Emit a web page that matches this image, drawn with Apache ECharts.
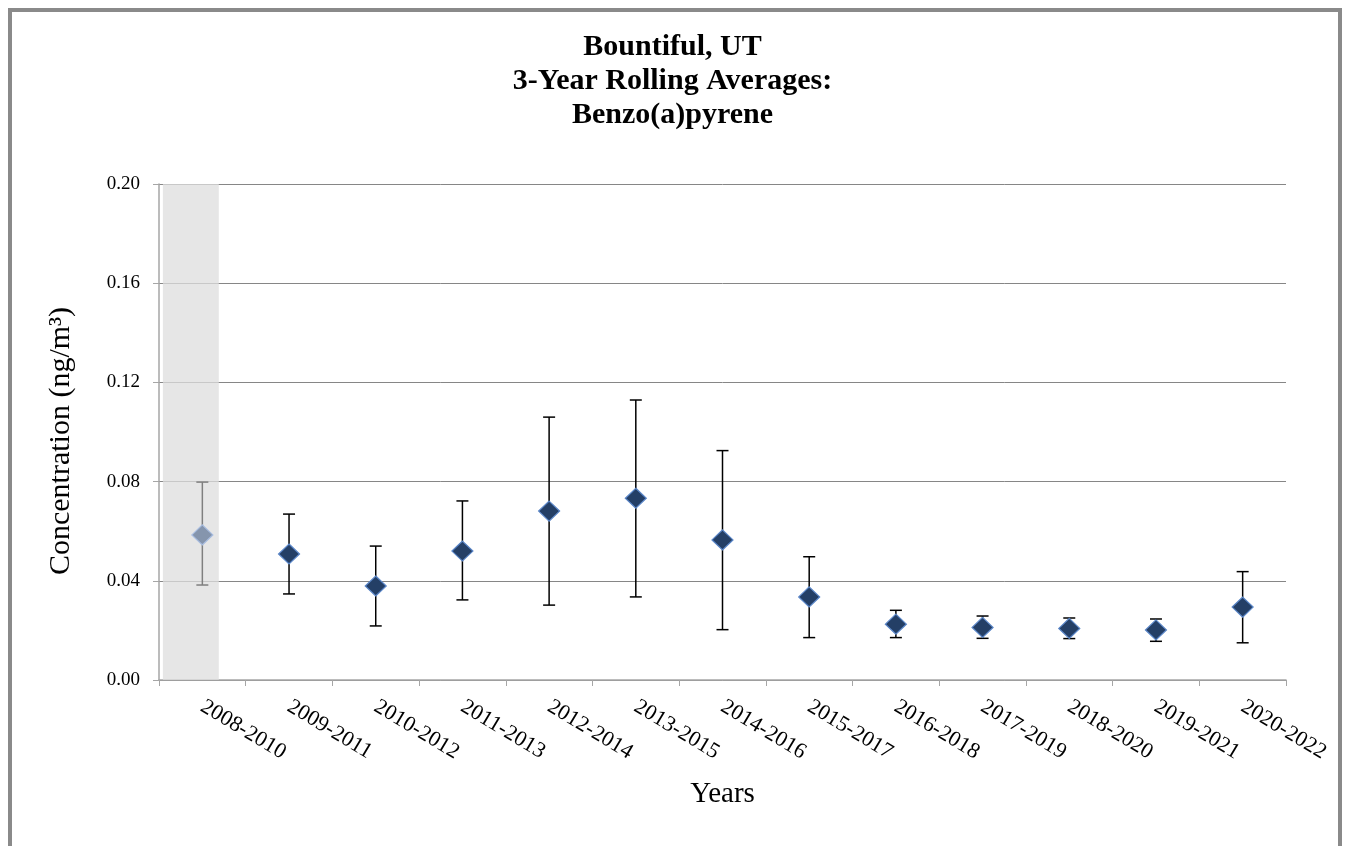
<!DOCTYPE html>
<html>
<head>
<meta charset="utf-8">
<script src="https://cdn.jsdelivr.net/npm/echarts@6/dist/echarts.min.js"></script>
<style>
html,body{margin:0;padding:0;background:#fff;}
#chart{width:1345px;height:846px;}
</style>
</head>
<body>
<div id="chart"></div>
<script>
// ---- data ----
var categories = ['2008-2010','2009-2011','2010-2012','2011-2013','2012-2014','2013-2015','2014-2016','2015-2017','2016-2018','2017-2019','2018-2020','2019-2021','2020-2022'];
var means = [0.0585, 0.0508, 0.0379, 0.0520, 0.0681, 0.0733, 0.0565, 0.0335, 0.0225, 0.0212, 0.0208, 0.0202, 0.0294];
var lows  = [0.0383, 0.0347, 0.0218, 0.0323, 0.0302, 0.0335, 0.0203, 0.0171, 0.0171, 0.0168, 0.0167, 0.0156, 0.0150];
var highs = [0.0798, 0.0669, 0.0540, 0.0722, 0.1060, 0.1129, 0.0925, 0.0497, 0.0281, 0.0258, 0.0250, 0.0246, 0.0437];
var yTicks = [0, 0.04, 0.08, 0.12, 0.16, 0.20];
var shadedBand = [-0.455, 0.19]; // shaded period (category units)

var SERIF = "'Liberation Serif','Times New Roman',serif";
var chart = echarts.init(document.getElementById('chart'), null, {renderer:'canvas'});

var scatterData = means.map(function(v, i){
  var d = {value:[i, v]};
  if (i === 0) d.itemStyle = {color:'#8595ad', borderColor:'#a8bde0', borderWidth:1.2};
  return d;
});
var errData = means.map(function(v, i){ return [i, lows[i], highs[i]]; });

var option = {
  animation:false,
  backgroundColor:'#fff',
  graphic:[{
    type:'rect', z:100, silent:true,
    shape:{x:10, y:10, width:1330, height:860},
    style:{fill:null, stroke:'#8a8a8a', lineWidth:4}
  }],
  title:{
    text:'Bountiful, UT\n3-Year Rolling Averages:\nBenzo(a)pyrene',
    left:'center', top:25,
    textStyle:{fontFamily:SERIF, fontWeight:'bold', fontSize:30, lineHeight:34, color:'#000'}
  },
  grid:{left:159, right:59, top:184, bottom:166, containLabel:false},
  xAxis:[{
    type:'category', data:categories, boundaryGap:true,
    name:'Years', nameLocation:'middle', nameGap:100,
    nameTextStyle:{fontFamily:SERIF, fontSize:29, color:'#000'},
    axisLine:{lineStyle:{color:'#a6a6a6', width:1.5}},
    axisTick:{show:true, length:6, alignWithLabel:false, lineStyle:{color:'#a6a6a6'}},
    axisLabel:{rotate:-31, margin:25, fontFamily:SERIF, fontSize:22, color:'#000', interval:0},
    splitLine:{show:false}
  },{
    type:'value', min:-0.5, max:12.5, show:false
  }],
  yAxis:{
    type:'value', min:0, max:0.2, interval:0.04,
    name:'Concentration (ng/m³)', nameLocation:'middle', nameGap:83,
    nameTextStyle:{fontFamily:SERIF, fontSize:30, color:'#000', padding:[0,18,0,0]},
    axisLine:{show:true, onZero:false, lineStyle:{color:'#a6a6a6', width:1.5}},
    axisTick:{show:true, length:6, lineStyle:{color:'#a6a6a6'}},
    axisLabel:{margin:19, fontFamily:SERIF, fontSize:19, color:'#000',
      formatter:function(v){ return v.toFixed(2); }},
    splitLine:{show:true, lineStyle:{color:'#868686', width:1}}
  },
  series:[{
    type:'scatter', xAxisIndex:1, data:[], silent:true,
    markArea:{silent:true, itemStyle:{color:'rgba(222,222,222,0.75)'},
      data:[[{xAxis:shadedBand[0], yAxis:0}, {xAxis:shadedBand[1], yAxis:0.2}]]},
    z:1
  },{
    type:'custom', name:'err', data:errData, z:3,
    renderItem:function(params, api){
      var i = api.value(0);
      var lo = api.coord([i, api.value(1)]);
      var hi = api.coord([i, api.value(2)]);
      var cap = 6;
      var col = i === 0 ? '#7f7f7f' : '#000';
      var st = {stroke:col, lineWidth:1.5};
      return {type:'group', children:[
        {type:'line', shape:{x1:lo[0], y1:lo[1], x2:hi[0], y2:hi[1]}, style:st},
        {type:'line', shape:{x1:lo[0]-cap, y1:lo[1], x2:lo[0]+cap, y2:lo[1]}, style:st},
        {type:'line', shape:{x1:hi[0]-cap, y1:hi[1], x2:hi[0]+cap, y2:hi[1]}, style:st}
      ]};
    }
  },{
    type:'scatter', data:scatterData, symbol:'diamond', symbolSize:[21,20], z:5,
    itemStyle:{color:'#243f66', borderColor:'#5a86c8', borderWidth:1.2, opacity:1}
  }]
};
chart.setOption(option);
</script>
</body>
</html>
